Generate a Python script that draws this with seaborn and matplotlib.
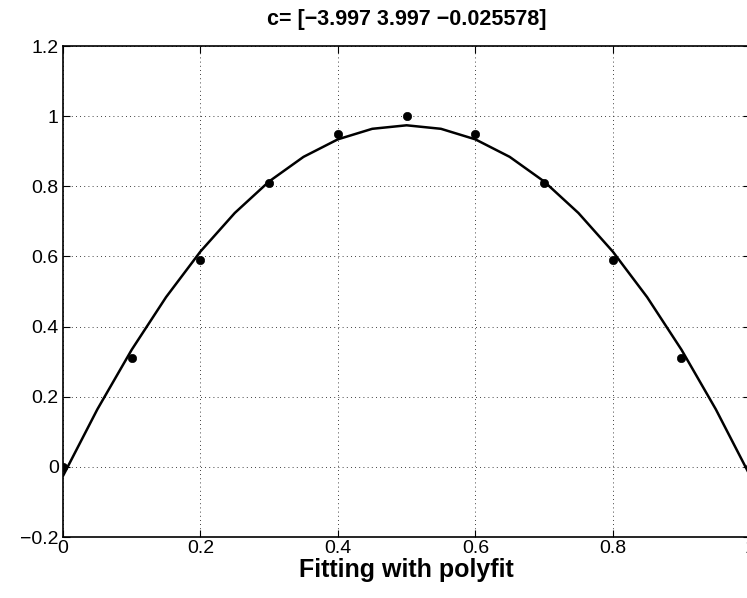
import matplotlib
matplotlib.use('Agg')
import matplotlib.pyplot as plt
import seaborn as sns
import pandas as pd

# measured points
x_data = [0.0, 0.1, 0.2, 0.3, 0.4, 0.5, 0.6, 0.7, 0.8, 0.9, 1.0]
y_data = [0.0, 0.31, 0.59, 0.81, 0.95, 1.0, 0.95, 0.81, 0.59, 0.31, 0.0]

# fitted curve
x_fit = [0.0, 0.05, 0.1, 0.15, 0.2, 0.25, 0.3, 0.35, 0.4, 0.45, 0.5,
         0.55, 0.6, 0.65, 0.7, 0.75, 0.8, 0.85, 0.9, 0.95, 1.0]
y_fit = [-0.026, 0.164, 0.334, 0.484, 0.614, 0.724, 0.814, 0.884, 0.934, 0.964, 0.974,
         0.964, 0.934, 0.884, 0.814, 0.724, 0.614, 0.484, 0.334, 0.164, -0.026]

title_text = 'c= [\u22123.997 3.997 \u22120.025578]'
xlabel_text = 'Fitting with polyfit'

sns.set_style('ticks')
plt.rcParams['font.family'] = ['Liberation Sans', 'DejaVu Sans']
plt.rcParams['axes.unicode_minus'] = True
plt.rcParams['text.color'] = 'black'
plt.rcParams['axes.labelcolor'] = 'black'
plt.rcParams['xtick.color'] = 'black'
plt.rcParams['ytick.color'] = 'black'

fig = plt.figure(figsize=(7.47, 5.98), dpi=100)
ax = fig.add_axes([0.0843, 0.102, 0.92, 0.821])

fit_df = pd.DataFrame({'x': x_fit, 'y': y_fit})
pts_df = pd.DataFrame({'x': x_data, 'y': y_data})

sns.lineplot(data=fit_df, x='x', y='y', ax=ax, color='black', linewidth=1.8, sort=False)
sns.scatterplot(data=pts_df, x='x', y='y', ax=ax, color='black', s=36, edgecolor='black', zorder=5)

ax.set_xlim(0, 1)
ax.set_ylim(-0.2, 1.2)
ax.set_xticks([0, 0.2, 0.4, 0.6, 0.8, 1.0])
ax.set_xticklabels(['0', '0.2', '0.4', '0.6', '0.8', '1'])
ax.set_yticks([-0.2, 0, 0.2, 0.4, 0.6, 0.8, 1.0, 1.2])
ax.set_yticklabels(['\u22120.2', '0', '0.2', '0.4', '0.6', '0.8', '1', '1.2'])
ax.grid(True, color='black', linestyle=(0, (1, 4)), linewidth=0.6)
ax.tick_params(direction='in', length=5, labelsize=14, pad=3, top=True, right=True,
               colors='black')
ax.tick_params(axis='x', pad=2)
for s in ax.spines.values():
    s.set_linewidth(1.2)
    s.set_color('black')

ax.set_title(title_text, fontsize=15.5, fontweight='bold', pad=15, color='black')
ax.set_xlabel(xlabel_text, fontsize=18, fontweight='bold', labelpad=1, color='black')
ax.set_ylabel('')

fig.savefig('out.png', dpi=100)
